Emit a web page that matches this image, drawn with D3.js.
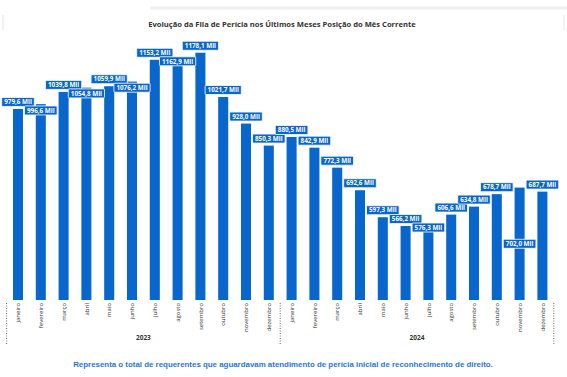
<!DOCTYPE html>
<html>
<head>
<meta charset="utf-8">
<script src="https://cdn.jsdelivr.net/npm/d3@7"></script>
<style>
  html, body { margin: 0; padding: 0; background: #fff; }
  #chart { width: 567px; height: 377px; }
</style>
</head>
<body>
<div id="chart"></div>
<script>
// data
const monthNames = ["janeiro", "fevereiro", "março", "abril", "maio", "junho",
  "julho", "agosto", "setembro", "outubro", "novembro", "dezembro"];
const years = ["2023", "2024"];
const values2023 = [979.6, 996.6, 1039.8, 1054.8, 1059.9, 1076.2, 1153.2, 1162.9, 1178.1, 1021.7, 928.0, 850.3];
const values2024 = [880.5, 842.9, 772.3, 692.6, 597.3, 566.2, 576.3, 606.6, 634.8, 678.7, 702.0, 687.7];

const width = 567, height = 377;
const barColor = "#0866cc";

const rows = years.flatMap((yr, yi) =>
  monthNames.map((m, mi) => ({
    key: yr + "-" + mi,
    year: yr,
    month: m,
    value: (yi === 0 ? values2023 : values2024)[mi]
  }))
);

const svg = d3.select("#chart").append("svg")
  .attr("width", width)
  .attr("height", height)
  .style("font-family", "'Open Sans', sans-serif");

// faint card frame
svg.append("line").attr("x1", 150).attr("x2", 567).attr("y1", 8).attr("y2", 8)
  .attr("stroke", "#f0f0f0").attr("stroke-width", 3);
svg.append("line").attr("x1", 3).attr("x2", 3).attr("y1", 15).attr("y2", 30)
  .attr("stroke", "#e6e6e6");
svg.append("line").attr("x1", 564).attr("x2", 564).attr("y1", 15).attr("y2", 30)
  .attr("stroke", "#e6e6e6");

// title
svg.append("text")
  .attr("x", 282)
  .attr("y", 27)
  .attr("text-anchor", "middle")
  .attr("fill", "#333")
  .style("font-size", "7.6px")
  .style("font-weight", "bold")
  .text("Evolução da Fila de Perícia nos Últimos Meses Posição do Mês Corrente");

// scales
const x = d3.scaleBand()
  .domain(rows.map(d => d.key))
  .range([6.6, 553.8])
  .paddingInner(0.56)
  .paddingOuter(0.28);

const xYear = d3.scaleBand()
  .domain(years)
  .range([6.6, 553.8]);

const y = d3.scaleLinear()
  .domain([305, 1180])
  .range([300, 52.2]);

// bars
svg.append("g").selectAll("rect")
  .data(rows)
  .join("rect")
  .attr("x", d => x(d.key))
  .attr("y", d => y(d.value))
  .attr("width", x.bandwidth())
  .attr("height", d => y.range()[0] - y(d.value))
  .attr("fill", barColor);

// labels: above bar, nudged down on collision, else middle of bar
const fmt = v => v.toFixed(1).replace(".", ",") + " Mil";
const labelH = 8;
let prevY = null;
rows.forEach(d => {
  const top = y(d.value);
  let ly = top - 7;
  if (prevY !== null && Math.abs(ly - prevY) < 7.8) {
    const down = prevY + 8.5;
    ly = down <= top + 7 ? down : (top + y.range()[0]) / 2;
  }
  d.ly = ly;
  prevY = ly;
});

const labels = svg.append("g").selectAll("g")
  .data(rows)
  .join("g")
  .attr("transform", d => `translate(${x(d.key) + x.bandwidth() / 2},${d.ly})`);

labels.append("text")
  .attr("text-anchor", "middle")
  .attr("dy", "0.35em")
  .attr("fill", "#fff")
  .style("font-size", "6.3px")
  .style("font-weight", "bold")
  .text(d => fmt(d.value));

labels.insert("rect", "text")
  .each(function () {
    const t = d3.select(this.parentNode).select("text").node();
    const w = t.getComputedTextLength() + 5;
    d3.select(this)
      .attr("x", -w / 2)
      .attr("y", -labelH / 2 - 0.5)
      .attr("width", w)
      .attr("height", labelH + 1);
  })
  .attr("rx", 1)
  .attr("fill", barColor)
  .attr("stroke", "#fff")
  .attr("stroke-width", 0.8);

// month axis labels
svg.append("g").selectAll("text")
  .data(rows)
  .join("text")
  .attr("transform", d => `translate(${x(d.key) + x.bandwidth() / 2},303) rotate(-90)`)
  .attr("text-anchor", "end")
  .attr("dy", "0.35em")
  .attr("fill", "#333")
  .style("font-size", "6px")
  .text(d => d.month);

// year group separators
const seps = [xYear.range()[0], ...years.map(yr => xYear(yr) + xYear.bandwidth())];
svg.append("g").selectAll("line")
  .data(seps)
  .join("line")
  .attr("x1", d => d).attr("x2", d => d)
  .attr("y1", 303).attr("y2", 344)
  .attr("stroke", "#666")
  .attr("stroke-width", 1)
  .attr("stroke-dasharray", "1,1.5");

svg.append("g").selectAll("text")
  .data(years)
  .join("text")
  .attr("x", d => xYear(d) + xYear.bandwidth() / 2)
  .attr("y", 338)
  .attr("text-anchor", "middle")
  .attr("dy", "0.35em")
  .attr("fill", "#333")
  .style("font-size", "6.5px")
  .style("font-weight", "bold")
  .text(d => d);

// footnote
svg.append("text")
  .attr("x", 283)
  .attr("y", 367)
  .attr("text-anchor", "middle")
  .attr("fill", "#1f78d1")
  .style("font-family", "'Liberation Sans', Arial, sans-serif")
  .style("font-size", "7.9px")
  .style("font-weight", "bold")
  .text("Representa o total de requerentes que aguardavam atendimento de perícia inicial de reconhecimento de direito.");
</script>
</body>
</html>
